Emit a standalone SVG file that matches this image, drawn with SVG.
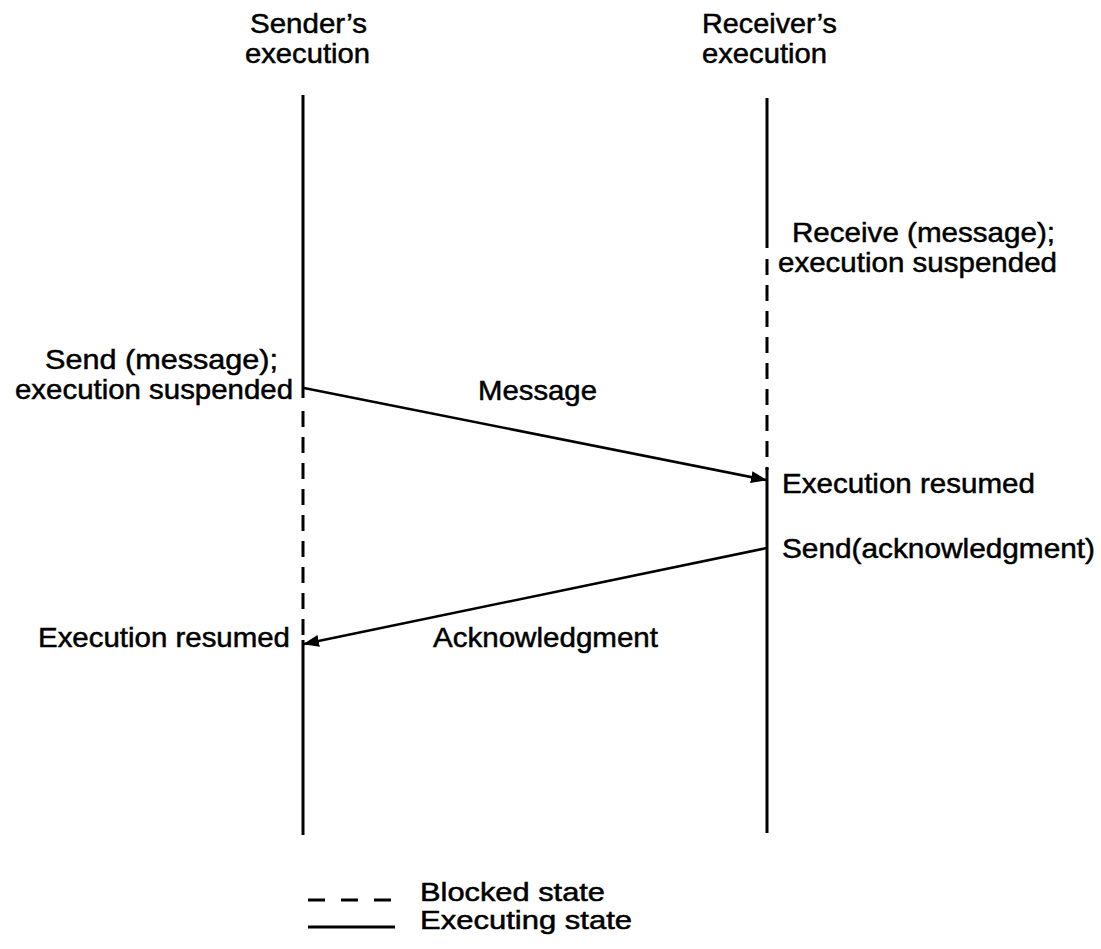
<svg xmlns="http://www.w3.org/2000/svg" width="1101" height="949" viewBox="0 0 1101 949">
  <style>
    text { font-family: "Liberation Sans", Arial, sans-serif; font-size: 28px; fill: #000; stroke: #000; stroke-width: 0.5; }
    .mid { text-anchor: middle; }
    .key { font-size: 25px; }
    .solid { stroke: #000; stroke-width: 3; fill: none; }
    .blocked { stroke: #000; stroke-width: 3; fill: none; stroke-dasharray: 16 10; }
    .msg { stroke: #000; stroke-width: 2.5; fill: none; marker-end: url(#head); }
  </style>
  <defs>
    <marker id="head" viewBox="0 0 16 12" refX="15" refY="6" markerWidth="16" markerHeight="12" markerUnits="userSpaceOnUse" orient="auto">
      <path d="M0,0 L16,6 L0,12 Z" fill="#000"/>
    </marker>
  </defs>

  <!-- Sender's lifeline -->
  <g id="sender">
    <text x="250" y="33" textLength="117" lengthAdjust="spacingAndGlyphs">Sender’s</text>
    <text x="245" y="63" textLength="125" lengthAdjust="spacingAndGlyphs">execution</text>
    <line class="solid" x1="303" y1="95" x2="303" y2="398"/>
    <line class="blocked" x1="303" y1="411" x2="303" y2="642"/>
    <line class="solid" x1="303" y1="640" x2="303" y2="835"/>
    <text x="45" y="369" textLength="233" lengthAdjust="spacingAndGlyphs">Send (message);</text>
    <text x="15" y="399" textLength="278" lengthAdjust="spacingAndGlyphs">execution suspended</text>
    <text x="38" y="647" textLength="252" lengthAdjust="spacingAndGlyphs">Execution resumed</text>
  </g>

  <!-- Receiver's lifeline -->
  <g id="receiver">
    <text x="702" y="33" textLength="135" lengthAdjust="spacingAndGlyphs">Receiver’s</text>
    <text x="702" y="63" textLength="125" lengthAdjust="spacingAndGlyphs">execution</text>
    <line class="solid" x1="767" y1="98" x2="767" y2="248"/>
    <line class="blocked" x1="767" y1="259" x2="767" y2="470"/>
    <line class="solid" x1="767" y1="468" x2="767" y2="833"/>
    <text x="792" y="242" textLength="263" lengthAdjust="spacingAndGlyphs">Receive (message);</text>
    <text x="778" y="272" textLength="279" lengthAdjust="spacingAndGlyphs">execution suspended</text>
    <text x="782" y="493" textLength="253" lengthAdjust="spacingAndGlyphs">Execution resumed</text>
    <text x="782" y="558" textLength="313" lengthAdjust="spacingAndGlyphs">Send(acknowledgment)</text>
  </g>

  <!-- Messages between the two executions -->
  <g id="connectors">
    <line class="msg" x1="304" y1="388" x2="766" y2="480"/>
    <text x="478" y="400" textLength="119" lengthAdjust="spacingAndGlyphs">Message</text>
    <line class="msg" x1="767" y1="548" x2="304" y2="644"/>
    <text x="433" y="647" textLength="225" lengthAdjust="spacingAndGlyphs">Acknowledgment</text>
  </g>

  <!-- Legend -->
  <g id="legend">
    <line class="blocked" x1="308" y1="900" x2="392" y2="900" style="stroke-dasharray:17 16"/>
    <text class="key" x="420" y="901" textLength="185" lengthAdjust="spacingAndGlyphs">Blocked state</text>
    <line class="solid" x1="308" y1="927" x2="395" y2="927"/>
    <text class="key" x="420" y="929" textLength="212" lengthAdjust="spacingAndGlyphs">Executing state</text>
  </g>
</svg>
